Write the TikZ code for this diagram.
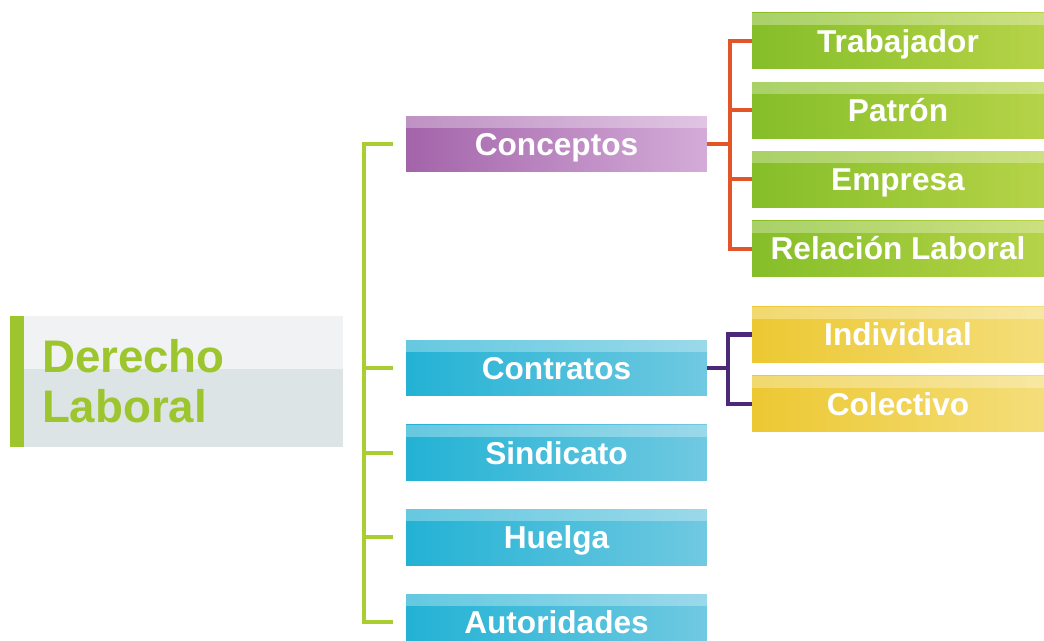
\documentclass[tikz,border=0pt]{standalone}
\usepackage{fontspec}
\setmainfont{Liberation Sans}
\usepackage{tikz}
\usetikzlibrary{positioning, calc}
\definecolor{verde}{RGB}{157, 197, 46}
\definecolor{grisA}{RGB}{240, 242, 243}
\definecolor{grisB}{RGB}{220, 228, 229}
\definecolor{moradoA}{RGB}{163, 100, 170}
\definecolor{moradoB}{RGB}{212, 172, 216}
\definecolor{azulA}{RGB}{35, 178, 212}
\definecolor{azulB}{RGB}{112, 201, 225}
\definecolor{pastoA}{RGB}{133, 190, 40}
\definecolor{pastoB}{RGB}{182, 211, 72}
\definecolor{amarilloA}{RGB}{236, 200, 50}
\definecolor{amarilloB}{RGB}{244, 222, 122}
\definecolor{lineaVerde}{RGB}{170, 205, 50}
\definecolor{naranja}{RGB}{226, 85, 40}
\definecolor{violeta}{RGB}{75, 40, 120}
\tikzset{
    raiz/.style={rectangle, fill=grisA, minimum height=2.62cm, text width=5.38cm, inner xsep=0.64cm, align=left, text=verde,
        font=\fontsize{26}{28.5}\selectfont\bfseries,
        path picture={\fill[grisB] ([yshift=0.26cm]path picture bounding box.west) rectangle (path picture bounding box.south east);
            \fill[verde] (path picture bounding box.north west) rectangle ([xshift=0.27cm]path picture bounding box.south west);}},
    caja/.style={rectangle, minimum height=1.12cm, inner sep=0pt, text=white, text height=13pt, text depth=0pt,
        font=\fontsize{18}{20}\selectfont\bfseries,
        path picture={\fill[white, opacity=0.3] (path picture bounding box.north west) rectangle ([yshift=-0.24cm]path picture bounding box.north east);}},
    tema/.style={caja, minimum width=6.02cm, left color=azulA, right color=azulB},
    temaM/.style={caja, minimum width=6.02cm, left color=moradoA, right color=moradoB},
    hoja/.style={caja, minimum width=5.84cm, left color=pastoA, right color=pastoB},
    hojaA/.style={caja, minimum width=5.84cm, left color=amarilloA, right color=amarilloB},
    conn/.style={-, line width=2.3pt},
}

\begin{document}
\begin{tikzpicture}[x=0.02cm, y=-0.02cm]
    \clip (0,0) rectangle (1044,641);

    \node [raiz] (r) at (176.5,381.5) {Derecho\\Laboral};

    \node [temaM] (c1) at (556.5,144) {Conceptos};
    \node [tema] (c2) at (556.5,368) {Contratos};
    \node [tema, below=0.56cm of c2] (c3) {Sindicato};
    \node [tema, below=0.56cm of c3] (c4) {Huelga};
    \node [tema, below=0.56cm of c4] (c5) {Autoridades};

    \node [hoja] (c1a) at (898,41) {Trabajador};
    \node [hoja, below=0.25cm of c1a] (c1b) {Patrón};
    \node [hoja, below=0.25cm of c1b] (c1c) {Empresa};
    \node [hoja, below=0.25cm of c1c] (c1d) {Relación Laboral};

    \node [hojaA] (c2a) at (898,334.5) {Individual};
    \node [hojaA, below=0.25cm of c2a] (c2b) {Colectivo};

    \coordinate (bv) at (364,0);
    \coordinate (bn) at (730,0);
    \coordinate (bm) at (728,0);

    % llave verde
    \draw[conn, lineaVerde, shorten <=0.26cm, shorten >=0.26cm] (c1.west) -- (c1.west -| bv) -- (c5.west -| bv) -- (c5.west);
    \draw[conn, lineaVerde, shorten <=0.26cm] (c2.west) -- (c2.west -| bv);
    \draw[conn, lineaVerde, shorten <=0.26cm] (c3.west) -- (c3.west -| bv);
    \draw[conn, lineaVerde, shorten <=0.26cm] (c4.west) -- (c4.west -| bv);

    % llave naranja
    \draw[conn, naranja] (c1.east) -- (c1.east -| bn);
    \draw[conn, naranja] (c1a.west) -- (c1a.west -| bn) -- (c1d.west -| bn) -- (c1d.west);
    \draw[conn, naranja] (c1b.west) -- (c1b.west -| bn);
    \draw[conn, naranja] (c1c.west) -- (c1c.west -| bn);

    % llave violeta
    \draw[conn, violeta] (c2.east) -- (c2.east -| bm);
    \draw[conn, violeta] (c2a.west) -- (c2a.west -| bm) -- (c2b.west -| bm) -- (c2b.west);
\end{tikzpicture}
\end{document}
